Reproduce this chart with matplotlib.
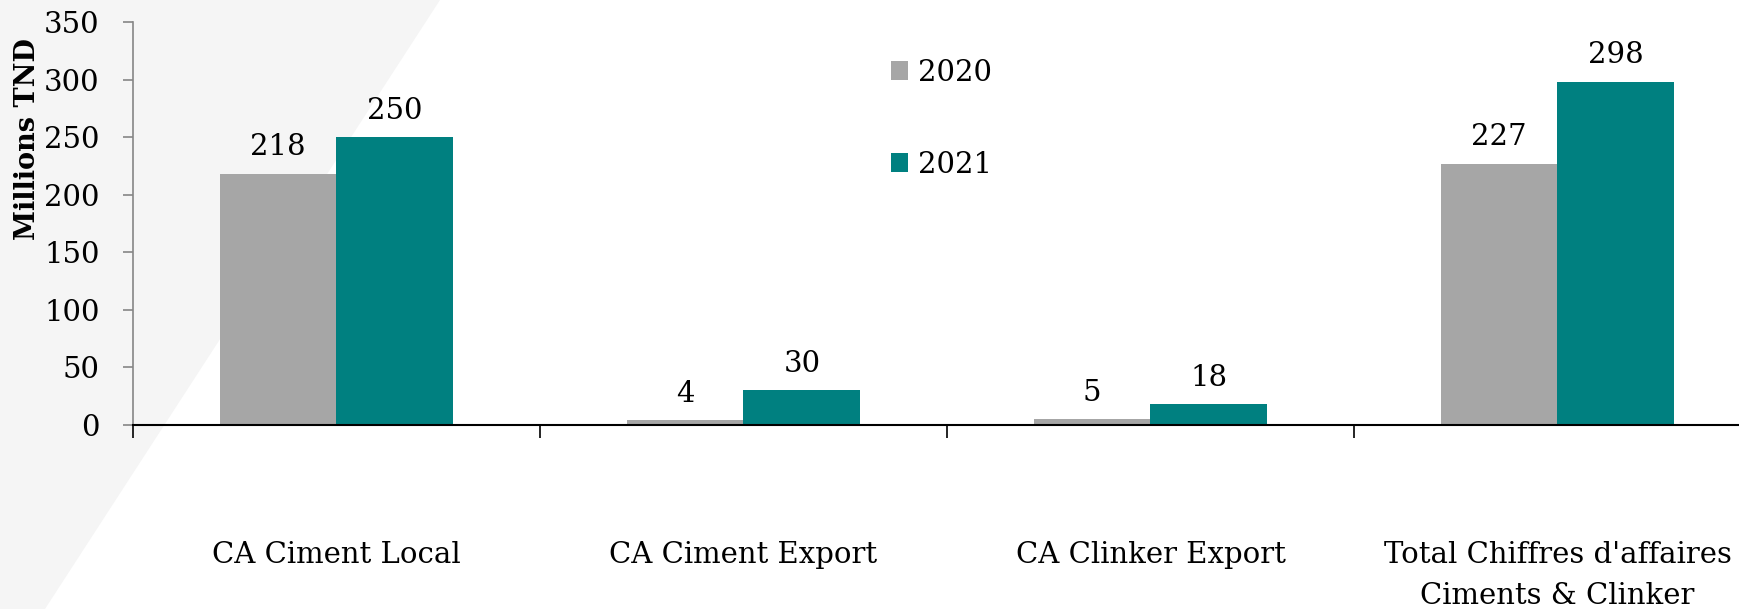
import matplotlib
matplotlib.use("Agg")
import matplotlib.pyplot as plt
from matplotlib.patches import Polygon, Patch
import matplotlib.transforms as mtransforms
import numpy as np

categories = ["CA Ciment Local", "CA Ciment Export", "CA Clinker Export",
              "Total Chiffres d'affaires\nCiments & Clinker"]
series_names = ["2020", "2021"]
values_2020 = [218, 4, 5, 227]
values_2021 = [250, 30, 18, 298]
yticks = [0, 50, 100, 150, 200, 250, 300, 350]

colors = ["#a6a6a6", "#008080"]
FONT = ["DejaVu Serif", "Liberation Serif"]
plt.rcParams["font.family"] = FONT
FS = 21

W, H = 1740, 609
fig = plt.figure(figsize=(W / 100, H / 100), dpi=100)

# background diagonal shading
bg = fig.add_axes([0, 0, 1, 1], zorder=-10)
bg.set_xlim(0, W); bg.set_ylim(H, 0); bg.axis("off")
bg.add_patch(Polygon([(0, 0), (440, 0), (45, H), (0, H)], closed=True,
                     facecolor="#f5f5f5", edgecolor="none"))

ax = fig.add_axes([133 / W, 1 - 425 / H, 4 * 407 / W, (425 - 22) / H])
ax.patch.set_alpha(0)

x = np.arange(len(categories))
bw = 0.287
b1 = ax.bar(x - bw / 2, values_2020, bw, color=colors[0], label=series_names[0])
b2 = ax.bar(x + bw / 2, values_2021, bw, color=colors[1], label=series_names[1])

for bars, vals in ((b1, values_2020), (b2, values_2021)):
    for rect, v in zip(bars, vals):
        ax.annotate(f"{v}", (rect.get_x() + rect.get_width() / 2, v),
                    xytext=(0, 9), textcoords="offset points",
                    ha="center", va="bottom", fontsize=FS)

ax.set_xlim(-0.5, 3.5)
ax.set_ylim(0, 350)
ax.set_yticks(yticks)
ax.set_yticklabels([str(t) for t in yticks], fontsize=FS)
ax.tick_params(axis="y", length=7, color="#868686", width=1.2, pad=17)

ax.set_xticks([-0.5, 0.5, 1.5, 2.5])
ax.set_xticklabels([])
ax.tick_params(axis="x", length=9, width=1.2, color="black")

# category labels: x in data coords, y in figure coords
trans = mtransforms.blended_transform_factory(ax.transData, fig.transFigure)
for i, c in enumerate(categories):
    for j, line in enumerate(c.split("\n")):
        ypix = 555 + 41 * j
        ax.text(i, 1 - ypix / H, line, transform=trans, ha="center",
                va="center", fontsize=FS, clip_on=False)

for s in ("top", "right"):
    ax.spines[s].set_visible(False)
ax.spines["left"].set_color("#868686")
ax.spines["left"].set_linewidth(1.2)
ax.spines["bottom"].set_color("black")
ax.spines["bottom"].set_linewidth(1.5)

ax.set_ylabel("Millions TND", fontsize=19.5, fontweight="bold")
ax.yaxis.set_label_coords(-(133 - 41) / (4 * 407), (425 - 139) / 403)

handles = [Patch(facecolor=colors[0]), Patch(facecolor=colors[1])]
fig.legend(handles, series_names, loc="upper left",
           bbox_to_anchor=(879 / W, 1 - 47 / H), frameon=False, fontsize=FS,
           handlelength=0.6, handleheight=0.6, handletextpad=0.35,
           labelspacing=2.2, borderaxespad=0)

fig.savefig("out.png", dpi=100)
